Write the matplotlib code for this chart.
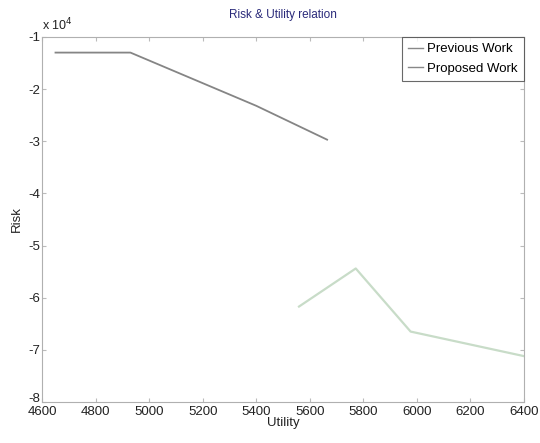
import numpy as np
import matplotlib
matplotlib.use("Agg")
import matplotlib.pyplot as plt
import matplotlib.transforms as mtransforms

# Values (risk in units of 1e4)
prev_utility = [4650, 4930, 5400, 5665]
prev_risk = [-1.30, -1.30, -2.32, -2.97]
prop_utility = [5560, 5772, 5977, 6400]
prop_risk = [-6.17, -5.44, -6.65, -7.12]
x_ticks = [4600, 4800, 5000, 5200, 5400, 5600, 5800, 6000, 6200, 6400]
y_ticks = [-8, -7, -6, -5, -4, -3, -2, -1]

plt.rcParams['font.family'] = ['Liberation Sans', 'DejaVu Sans']
plt.rcParams['axes.unicode_minus'] = False

fig = plt.figure(figsize=(5.4, 4.43), dpi=100)
ax = fig.add_axes([0.078, 0.0926, 0.892, 0.824])

ax.plot(prev_utility, prev_risk, color='#858585', linewidth=1.3, label='Previous Work')
ax.plot(prop_utility, prop_risk, color='#c8dcc8', linewidth=1.6, label='Proposed Work')

ax.set_xlim(4600, 6400)
ax.set_ylim(-8, -1)
ax.set_xticks(x_ticks)
ax.set_yticks(y_ticks)
ax.tick_params(direction='in', top=True, right=True, length=3, labelsize=9.5,
               colors='#bbbbbb', labelcolor='#222222', pad=1)
ax.tick_params(axis='x', pad=3)
for s in ax.spines.values():
    s.set_color('#b0b0b0')

# nudge the bottom y label up a little so it does not sit on "4600"
lbl = ax.get_yticklabels()[0]
lbl.set_transform(lbl.get_transform() + mtransforms.ScaledTranslation(0, 3 / 72, fig.dpi_scale_trans))

ax.set_xlabel('Utility', fontsize=9.5, color='#222222', labelpad=-1)
ax.set_ylabel('Risk', fontsize=9.5, color='#222222', labelpad=4)
ax.set_title('Risk & Utility relation', fontsize=8.5, color='#2a2a7a', pad=14)
ax.text(0.0, 1.01, 'x 10$^4$', transform=ax.transAxes, fontsize=9, color='#222222',
        ha='left', va='bottom')

leg = ax.legend(loc='upper right', fontsize=9.5, handlelength=1.2, handletextpad=0.3,
                borderaxespad=0, borderpad=0.45, labelspacing=0.55, fancybox=False)
leg.get_frame().set_edgecolor('#444444')
leg.get_frame().set_linewidth(0.8)
for line in leg.get_lines():
    line.set_color('#888888')
    line.set_linewidth(1.0)

fig.savefig('out.png', dpi=100)
